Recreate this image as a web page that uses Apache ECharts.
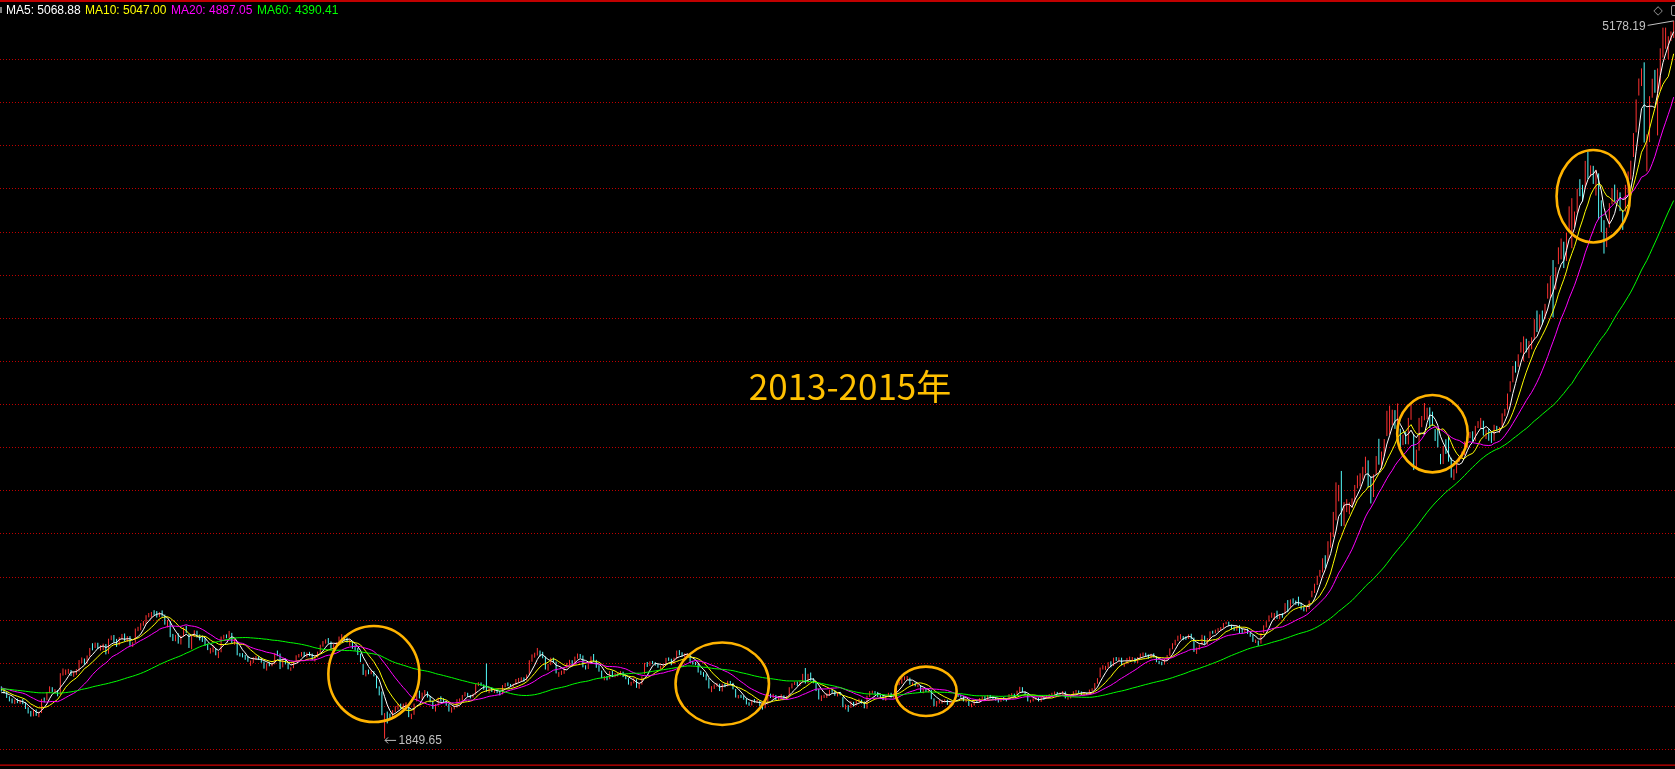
<!DOCTYPE html>
<html><head><meta charset="utf-8">
<script src="https://cdn.jsdelivr.net/npm/echarts@6/dist/echarts.min.js"></script>
<style>html,body{margin:0;padding:0;background:#000;}#c{width:1675px;height:769px;}</style>
</head><body><div id="c"></div>
<script>
// closes before the first visible candle (only used for moving averages)
const preCloses = [2120,2118,2115,2106,2114,2102,2108,2092,2087,2070,2060,2052,2048,2047,2043,2037,2029,2044,2127,2135,2110,2103,2098,2089,2076,2036,2029,2022,2010,2005,2056,2086,2075,2074,2098,2115,2111,2104,2102,2127,2128,2115,2096,2092,2082,2080,2068,2073,2080,2108,2104,2100,2091,2089,2080,2058,2070,2057,2049];

// daily candles: [open, close, low, high]
const k2012 = [
// Nov
[2085,2077,2068,2092],[2070,2068,2058,2080],[2064,2042,2038,2069],[2040,2031,2022,2046],[2029,2020,2013,2036],[2018,2027,2010,2031],[2030,2018,2014,2035],[2017,2025,2011,2029],[2027,2016,2009,2033],[2014,1991,1987,2018],[1990,1973,1966,1995],[1971,1960,1952,1978],[1958,1980,1953,1983],
// Dec
[1978,1960,1955,1985],[1955,1971,1949,1974],[1970,2031,1968,2034],[2030,2029,2018,2040],[2031,2061,2027,2066],[2066,2082,2060,2092],[2080,2075,2066,2088],[2072,2073,2061,2079],[2070,2051,2046,2075],[2055,2150,2053,2153],[2148,2161,2142,2175],[2155,2162,2145,2170],[2163,2166,2150,2173],[2162,2152,2140,2168],[2150,2153,2136,2160],[2151,2168,2145,2172],[2165,2212,2160,2214],[2210,2214,2200,2226],[2215,2204,2193,2221],[2203,2233,2198,2235],[2233,2269,2230,2270]
];
const k2013 = [
// Jan
[2289,2276,2259,2292],[2272,2285,2270,2295],[2287,2276,2265,2294],[2270,2275,2258,2283],[2275,2283,2260,2290],[2280,2243,2240,2288],[2245,2311,2243,2313],[2310,2325,2306,2328],[2322,2309,2295,2330],[2305,2284,2275,2312],[2285,2317,2282,2320],[2318,2328,2310,2335],[2330,2315,2300,2337],[2310,2320,2298,2325],[2318,2282,2280,2325],[2283,2292,2275,2297],[2294,2358,2294,2360],[2357,2359,2348,2368],[2358,2382,2352,2385],[2383,2385,2373,2395],
// Feb
[2385,2419,2380,2422],[2420,2428,2412,2432],[2420,2433,2410,2437],[2436,2434,2422,2445],[2432,2418,2411,2441],[2420,2432,2413,2436],[2435,2421,2415,2444],[2420,2382,2378,2425],[2380,2397,2365,2400],[2390,2325,2320,2395],[2320,2314,2302,2335],[2315,2326,2301,2331],[2320,2293,2290,2338],[2290,2325,2286,2327],[2325,2365,2322,2366],
// Mar
[2362,2359,2340,2373],[2333,2273,2270,2335],[2273,2326,2264,2328],[2328,2347,2322,2352],[2345,2324,2318,2350],[2326,2318,2305,2332],[2315,2311,2298,2324],[2310,2286,2280,2316],[2285,2263,2260,2290],[2258,2263,2244,2270],[2262,2278,2250,2283],[2265,2240,2236,2270],[2236,2251,2223,2254],[2253,2321,2250,2323],[2322,2328,2312,2331],[2326,2323,2315,2333],[2325,2339,2316,2349],[2336,2297,2292,2340],[2295,2300,2285,2312],[2296,2240,2236,2300],[2238,2236,2230,2246],
// Apr
[2240,2234,2226,2246],[2232,2225,2215,2238],[2226,2211,2206,2232],[2200,2206,2187,2212],[2203,2225,2200,2228],[2224,2226,2215,2233],[2228,2221,2214,2232],[2220,2206,2202,2225],[2200,2181,2174,2207],[2174,2197,2165,2199],[2196,2194,2185,2204],[2190,2198,2185,2202],[2196,2245,2194,2247],[2243,2242,2232,2258],[2240,2184,2172,2244],[2182,2218,2180,2220],[2216,2199,2194,2222],[2198,2177,2171,2204],
// May
[2172,2175,2164,2180],[2178,2206,2176,2208],[2207,2235,2205,2236],[2233,2235,2226,2242],[2236,2246,2230,2251],[2245,2232,2228,2252],[2230,2246,2226,2249],[2244,2241,2232,2252],[2238,2217,2214,2244],[2215,2229,2207,2232],[2228,2251,2226,2253],[2250,2282,2248,2285],[2283,2299,2276,2302],[2298,2305,2290,2310],[2304,2302,2290,2316],[2295,2270,2266,2300],[2268,2283,2263,2288],[2282,2293,2275,2297],[2292,2321,2290,2323],[2320,2324,2311,2334],[2322,2311,2305,2327],[2310,2300,2295,2318],
// Jun
[2298,2299,2280,2310],[2297,2272,2266,2302],[2270,2270,2258,2282],[2266,2242,2237,2270],[2240,2211,2204,2244],[2190,2148,2145,2195],[2148,2163,2138,2167],[2162,2157,2148,2170],[2156,2159,2148,2166],[2160,2143,2138,2163],[2135,2084,2083,2140],[2080,2073,2050,2092],[2060,1963,1958,2068],[1950,1959,1849.65,1968],[1958,1951,1920,1975],[1952,1950,1940,1966],[1950,1979,1942,1982],
// Jul
[1982,1995,1972,2000],[1994,2006,1984,2011],[2004,1994,1988,2012],[1990,2007,1980,2012],[2005,2007,1995,2018],[1995,1958,1949,1998],[1955,1960,1940,1965],[1962,2009,1960,2012],[2025,2072,2022,2081],[2068,2039,2036,2072],[2040,2059,2030,2063],[2056,2066,2050,2075],[2064,2044,2040,2068],[2043,2023,2018,2048],[2022,1992,1987,2026],[1990,2004,1975,2010],[2006,2036,2003,2040],[2035,2033,2022,2046],[2030,2021,2015,2037],[2019,2010,2002,2025],[2005,1977,1975,2010],[1980,1991,1970,1995],[1990,1994,1985,2002],
// Aug
[1995,2029,1993,2032],[2028,2029,2020,2036],[2027,2050,2025,2052],[2050,2061,2045,2066],[2058,2047,2043,2062],[2045,2044,2036,2052],[2046,2052,2040,2058],[2055,2101,2053,2103],[2100,2106,2093,2111],[2104,2100,2094,2110],[2098,2081,2076,2101],[2079,2068,2067,2198],[2064,2085,2060,2090],[2083,2072,2066,2087],[2070,2072,2061,2077],[2070,2064,2060,2077],[2064,2057,2050,2070],[2055,2096,2055,2098],[2095,2103,2088,2107],[2102,2101,2093,2110],[2099,2097,2090,2103],[2096,2098,2088,2104],
// Sep
[2100,2123,2098,2126],[2118,2123,2110,2131],[2122,2127,2115,2134],[2126,2123,2114,2133],[2122,2140,2119,2147],[2145,2212,2145,2213],[2212,2236,2206,2240],[2234,2241,2225,2248],[2240,2255,2235,2270],[2252,2236,2230,2258],[2240,2231,2222,2252],[2226,2173,2170,2230],[2172,2191,2165,2196],[2195,2221,2190,2225],[2218,2207,2200,2225],[2205,2155,2152,2207],[2150,2155,2136,2158],[2153,2160,2145,2165],[2158,2175,2150,2178],
// Oct
[2180,2198,2176,2201],[2196,2211,2190,2215],[2208,2190,2185,2213],[2192,2228,2190,2230],[2226,2238,2220,2244],[2236,2233,2224,2242],[2230,2184,2180,2235],[2185,2178,2170,2190],[2176,2193,2172,2196],[2195,2229,2195,2231],[2228,2210,2205,2242],[2208,2184,2178,2215],[2182,2164,2160,2190],[2160,2133,2130,2165],[2130,2133,2120,2140],[2133,2128,2120,2140],[2128,2160,2125,2163],[2158,2141,2135,2165],
// Nov
[2140,2149,2134,2153],[2148,2149,2138,2156],[2147,2157,2142,2163],[2155,2139,2135,2160],[2136,2129,2125,2141],[2125,2106,2100,2130],[2104,2109,2095,2113],[2110,2126,2106,2133],[2122,2087,2085,2125],[2083,2100,2081,2104],[2101,2135,2100,2138],[2150,2197,2148,2201],[2195,2193,2182,2205],[2190,2206,2186,2208],[2205,2201,2195,2210],[2198,2197,2188,2204],[2193,2184,2178,2197],[2182,2183,2172,2188],[2182,2191,2178,2194],[2195,2220,2192,2224],[2221,2220,2210,2226],
// Dec
[2215,2207,2190,2220],[2205,2222,2195,2225],[2222,2251,2218,2258],[2248,2245,2236,2260],[2244,2237,2230,2250],[2236,2238,2225,2245],[2237,2238,2228,2245],[2236,2204,2200,2238],[2203,2202,2193,2210],[2200,2197,2190,2205],[2195,2160,2156,2197],[2158,2151,2145,2165],[2152,2143,2136,2158],[2142,2128,2120,2148],[2125,2085,2082,2130],[2080,2089,2065,2093],[2088,2096,2080,2101],[2095,2102,2090,2108],[2100,2073,2070,2104],[2072,2101,2068,2104],[2100,2097,2088,2105],[2097,2116,2092,2118]
];
const k2014 = [
// Jan
[2112,2109,2100,2117],[2105,2083,2078,2108],[2077,2045,2040,2080],[2042,2047,2036,2052],[2045,2045,2038,2053],[2043,2034,2030,2050],[2032,2013,2008,2036],[2010,2009,2002,2018],[2008,2026,2003,2028],[2024,2023,2016,2033],[2022,2023,2015,2030],[2022,2004,2000,2025],[2000,1991,1984,2005],[1993,2009,1990,2012],[2010,2052,2008,2054],[2050,2044,2038,2058],[2043,2054,2036,2057],[2050,2033,2028,2052],[2030,2038,2026,2045],[2038,2049,2035,2055],[2046,2033,2030,2050],
// Feb
[2035,2044,2030,2048],[2048,2086,2046,2088],[2085,2104,2082,2106],[2103,2110,2098,2114],[2108,2100,2094,2114],[2098,2116,2094,2118],[2115,2135,2110,2150],[2133,2111,2105,2177],[2110,2142,2105,2150],[2140,2127,2118,2156],[2125,2113,2106,2130],[2110,2076,2070,2113],[2074,2034,2031,2080],[2030,2047,2024,2050],[2046,2047,2038,2053],[2045,2056,2038,2060],
// Mar
[2050,2075,2048,2077],[2072,2071,2062,2080],[2070,2053,2048,2075],[2050,2060,2045,2065],[2058,2057,2050,2066],[2040,1999,1995,2042],[1997,2001,1985,2008],[1998,1997,1974,2005],[1995,2019,1992,2023],[2015,2004,1998,2020],[2005,2024,2003,2027],[2025,2025,2018,2035],[2022,2021,2012,2030],[2018,1993,1990,2022],[1994,2047,1988,2049],[2045,2066,2043,2070],[2064,2067,2058,2072],[2065,2063,2055,2070],[2060,2046,2042,2066],[2044,2042,2035,2052],[2043,2033,2028,2050],
// Apr
[2030,2047,2025,2050],[2045,2059,2042,2062],[2058,2043,2040,2062],[2042,2058,2035,2060],[2058,2105,2055,2107],[2103,2109,2098,2115],[2108,2134,2104,2146],[2130,2131,2120,2138],[2129,2131,2122,2140],[2128,2102,2100,2132],[2100,2106,2094,2110],[2104,2098,2092,2110],[2096,2097,2088,2102],[2095,2066,2063,2098],[2065,2078,2060,2080],[2076,2071,2066,2083],[2070,2075,2064,2078],[2074,2036,2032,2076],[2033,2004,2000,2036],[2002,2020,1998,2024],[2018,2026,2012,2030],
// May
[2022,2027,2012,2030],[2025,2028,2018,2032],[2026,2010,2006,2030],[2008,2016,2002,2020],[2015,2011,2005,2020],[2030,2053,2028,2055],[2052,2050,2043,2058],[2048,2047,2040,2054],[2045,2025,2022,2048],[2023,2026,2018,2030],[2022,2005,2001,2025],[2004,2008,1995,2012],[2006,2024,2003,2026],[2022,2021,2015,2030],[2020,2035,2017,2037],[2035,2041,2030,2046],[2040,2034,2030,2046],[2033,2050,2028,2052],[2048,2040,2036,2052],[2040,2039,2032,2046],
// Jun
[2038,2031,2026,2042],[2030,2024,2017,2035],[2022,2038,2020,2040],[2037,2030,2026,2042],[2030,2029,2022,2036],[2030,2053,2028,2056],[2052,2054,2045,2060],[2053,2051,2044,2058],[2050,2070,2048,2072],[2068,2087,2065,2090],[2085,2066,2063,2088],[2065,2055,2050,2068],[2053,2024,2022,2055],[2022,2026,2016,2030],[2025,2034,2022,2037],[2033,2038,2028,2042],[2037,2025,2022,2040],[2024,2039,2020,2041],[2038,2036,2030,2043],[2037,2048,2035,2052],
// Jul
[2048,2050,2043,2056],[2050,2059,2046,2062],[2058,2064,2054,2068],[2063,2059,2055,2066],[2058,2059,2051,2064],[2058,2067,2054,2070],[2066,2038,2036,2068],[2036,2039,2030,2044],[2040,2047,2036,2052],[2046,2067,2045,2069],[2066,2070,2062,2075],[2069,2066,2060,2073],[2064,2055,2052,2068],[2052,2059,2048,2062],[2058,2055,2052,2063],[2056,2075,2054,2077],[2074,2078,2070,2083],[2080,2105,2078,2107],[2106,2127,2104,2130],[2135,2178,2133,2179],[2180,2183,2170,2190],[2180,2182,2168,2187],[2182,2202,2178,2204],
// Aug
[2200,2185,2180,2208],[2188,2223,2186,2225],[2222,2217,2210,2228],[2215,2224,2208,2226],[2222,2193,2190,2225],[2190,2194,2183,2198],[2196,2222,2195,2224],[2222,2222,2212,2230],[2220,2222,2212,2228],[2220,2206,2202,2224],[2204,2226,2200,2228],[2227,2240,2222,2244],[2240,2245,2232,2249],[2244,2237,2230,2248],[2235,2226,2220,2240],[2224,2241,2222,2243],[2240,2229,2226,2245],[2228,2207,2204,2232],[2205,2201,2195,2210],[2200,2195,2190,2206],[2195,2217,2193,2219],
// Sep
[2218,2235,2214,2237],[2236,2266,2234,2268],[2266,2288,2264,2292],[2288,2306,2282,2308],[2306,2326,2302,2327],[2326,2326,2310,2334],[2322,2319,2306,2325],[2318,2316,2308,2324],[2316,2331,2312,2333],[2330,2315,2310,2336],[2313,2255,2252,2318],[2250,2269,2242,2272],[2267,2281,2262,2285],[2285,2329,2283,2331],[2325,2290,2285,2327],[2288,2314,2285,2316],[2313,2345,2310,2347],[2344,2343,2336,2350],[2342,2347,2338,2355],[2350,2357,2345,2362],[2358,2364,2350,2367],
// Oct
[2367,2383,2362,2386],[2385,2389,2380,2392],[2386,2374,2370,2392],[2372,2366,2355,2378],[2364,2359,2350,2370],[2358,2373,2350,2376],[2370,2356,2337,2376],[2355,2341,2336,2360],[2343,2357,2340,2360],[2355,2339,2335,2360],[2338,2326,2322,2343],[2325,2302,2298,2330],[2300,2302,2293,2309],[2298,2290,2280,2304],[2292,2337,2290,2339],[2340,2373,2338,2375],[2370,2391,2365,2394],[2395,2420,2392,2421],
// Nov
[2420,2430,2410,2434],[2428,2430,2400,2432],[2432,2420,2405,2443],[2418,2425,2403,2428],[2425,2418,2410,2432],[2430,2474,2428,2478],[2485,2469,2436,2492],[2462,2494,2455,2495],[2492,2485,2475,2500],[2484,2478,2470,2490],[2503,2474,2466,2508],[2472,2456,2448,2480],[2455,2450,2440,2460],[2447,2452,2438,2460],[2452,2487,2450,2490],[2510,2532,2505,2535],[2535,2567,2525,2568],[2566,2604,2562,2605],[2605,2631,2600,2632],[2640,2683,2620,2686],
// Dec
[2688,2681,2640,2700],[2682,2763,2670,2765],[2760,2779,2735,2806],[2790,2900,2785,2901],[2920,2938,2862,3038],[2975,3020,2950,3026],[3050,2856,2835,3091],[2850,2941,2836,2946],[2920,2925,2900,2960],[2908,2938,2890,2945],[2928,2953,2920,2964],[2955,3022,2945,3026],[3017,3061,3010,3070],[3055,3058,3020,3080],[3062,3108,3050,3110],[3118,3128,3080,3157],[3127,3032,3015,3140],[3030,2978,2940,3066],[2972,3073,2970,3075],[3085,3158,3075,3160],[3175,3169,3120,3240],[3160,3166,3100,3181],[3170,3235,3160,3239]
];
const k2015 = [
// Jan
[3258,3351,3253,3370],[3330,3352,3260,3394],[3326,3374,3304,3375],[3371,3294,3286,3373],[3276,3286,3238,3404],[3259,3230,3187,3287],[3223,3236,3211,3259],[3242,3223,3215,3271],[3224,3336,3214,3337],[3343,3376,3328,3400],[3189,3117,3095,3262],[3114,3173,3103,3190],[3189,3323,3185,3337],[3327,3343,3294,3346],[3343,3351,3326,3406],[3353,3383,3331,3384],[3379,3353,3290,3386],[3349,3305,3300,3366],[3266,3262,3230,3285],[3267,3210,3200,3288],
// Feb
[3148,3128,3122,3170],[3140,3204,3123,3207],[3214,3174,3170,3238],[3250,3136,3134,3252],[3140,3076,3060,3152],[3062,3095,3049,3099],[3092,3141,3080,3142],[3139,3158,3134,3160],[3160,3173,3150,3181],[3180,3203,3164,3228],[3205,3247,3200,3248],[3253,3269,3243,3272],[3269,3229,3227,3275],[3230,3298,3229,3300],[3296,3310,3290,3322],
// Mar
[3314,3336,3290,3337],[3320,3263,3255,3324],[3250,3280,3239,3283],[3280,3248,3231,3287],[3246,3241,3221,3272],[3233,3302,3231,3305],[3300,3286,3278,3300],[3280,3291,3267,3294],[3297,3349,3292,3358],[3352,3373,3345,3379],[3378,3449,3376,3450],[3459,3503,3458,3507],[3505,3578,3502,3578],[3586,3582,3547,3600],[3592,3617,3574,3632],[3641,3687,3640,3688],[3691,3691,3600,3715],[3680,3661,3641,3704],[3650,3683,3614,3694],[3687,3691,3655,3711],[3710,3786,3701,3795],[3820,3748,3735,3835],
// Apr
[3748,3810,3742,3817],[3828,3826,3770,3835],[3803,3864,3800,3866],[3899,3961,3890,3961],[3964,3995,3891,3996],[3995,3958,3803,4069],[3949,4035,3932,4036],[4072,4122,4050,4128],[4125,4135,4072,4169],[4135,4084,4032,4154],[4066,4195,4065,4195],[4255,4287,4208,4318],[4215,4217,4124,4356],[4230,4294,4223,4294],[4307,4398,4288,4399],[4418,4415,4365,4444],[4418,4394,4341,4418],[4402,4527,4400,4529],[4533,4476,4444,4572],[4475,4501,4455,4508],[4493,4442,4422,4506],
// May
[4426,4480,4368,4488],[4470,4299,4257,4471],[4311,4229,4198,4346],[4230,4112,4099,4254],[4129,4206,4129,4219],[4220,4333,4220,4333],[4340,4402,4328,4402],[4392,4376,4341,4419],[4373,4379,4351,4396],[4366,4309,4296,4383],[4296,4284,4209,4301],[4294,4418,4294,4418],[4414,4446,4380,4480],[4452,4530,4442,4530],[4548,4658,4547,4658],[4661,4814,4661,4814],[4832,4911,4832,4911],[4937,4942,4876,4958],[4943,4620,4614,4986],[4604,4612,4480,4652],
// Jun
[4633,4828,4616,4829],[4844,4910,4822,4910],[4924,4910,4845,4951],[4912,4948,4647,4958],[4948,5023,4853,5051],[5046,5132,5008,5147],[5113,5114,5049,5147],[5049,5106,5001,5107],[5101,5122,5085,5129],[5143,5166,5099,5178.19]
];

const maPeriods = [5, 10, 20, 60];
const maLegendText = ['MA5: 5068.88', 'MA10: 5047.00', 'MA20: 4887.05', 'MA60: 4390.41'];
const titleText = '2013-2015年';
const yMin = 1800, yMax = 5200, yStep = 200;

// annotation circles: centre in data space [index, price], radii in px
const circleCenters = [[139.4, 2149], [269.2, 2104], [344.6, 2069], [534.1, 3264], [593.6, 4365]];
const circleRadii = [[45.5, 48], [46.7, 41.2], [30.7, 24.7], [35.3, 38.7], [36.7, 46.2]];

const candles = k2012.concat(k2013, k2014, k2015);
const categories = candles.map((_, i) => i);
const closes = candles.map(d => d[1]);
const allCloses = preCloses.concat(closes);
function ma(n) {
  const out = [];
  for (let i = 0; i < closes.length; i++) {
    const end = preCloses.length + i;
    let s = 0;
    for (let j = end - n + 1; j <= end; j++) s += allCloses[j];
    out.push(+(s / n).toFixed(2));
  }
  return out;
}
const maColors = ['#FFFFFF', '#FFFF00', '#FF00FF', '#00FF00'];
const N = candles.length;
const band = 2.695;
const gridW = N * band;

const chart = echarts.init(document.getElementById('c'), null, {renderer: 'canvas'});
const nTicks = Math.round((yMax - yMin) / yStep) + 1;
const splitColors = [];
for (let i = 0; i < nTicks; i++) splitColors.push(i === nTicks - 1 ? 'rgba(0,0,0,0)' : '#C00000');

const option = {
  backgroundColor: '#000000',
  animation: false,
  grid: {left: 0, right: 1675 - gridW, top: 16.2, bottom: 19.7, containLabel: false},
  xAxis: {type: 'category', data: categories, boundaryGap: true, show: false},
  yAxis: {
    type: 'value', min: yMin, max: yMax, interval: yStep, scale: false,
    axisLine: {show: false}, axisTick: {show: false}, axisLabel: {show: false},
    splitLine: {show: true, showMaxLine: false, lineStyle: {color: splitColors, width: 1, type: [1, 2]}}
  },
  series: [
    {type: 'candlestick', data: candles, barWidth: 1, silent: true,
     itemStyle: {color: '#FF3232', color0: '#54FCFC', borderColor: '#FF3232', borderColor0: '#54FCFC', borderWidth: 1}}
  ].concat(maPeriods.map((p, k) => ({
    type: 'line', data: ma(p), showSymbol: false, symbol: 'none', silent: true, smooth: false,
    lineStyle: {color: maColors[k], width: 1}
  })))
};
chart.setOption(option);

// annotations
const px = (i, v) => chart.convertToPixel({gridIndex: 0}, [i, v]);
let minI = 0, maxI = 0;
candles.forEach((d, i) => { if (d[2] < candles[minI][2]) minI = i; if (d[3] > candles[maxI][3]) maxI = i; });
const pMin = px(minI, candles[minI][2]);
const pMax = px(maxI, candles[maxI][3]);
const font12 = "12px 'Liberation Sans', 'DejaVu Sans', sans-serif";
const gray = '#C0C0C0';
const g = [
  {type: 'rect', shape: {x: 0, y: 0, width: 1675, height: 2}, style: {fill: '#C00000'}, z: 100, silent: true},
  {type: 'rect', shape: {x: 0, y: 764.5, width: 1675, height: 1.2}, style: {fill: '#D00000'}, z: 100, silent: true},
  {type: 'rect', shape: {x: 0, y: 7, width: 2, height: 6}, style: {fill: '#808080'}, z: 100, silent: true}
];
const legendX = [6, 85, 171, 257];
maLegendText.forEach((t, k) => g.push({type: 'text', z: 100, silent: true,
  style: {text: t, x: legendX[k], y: 10.5, fill: maColors[k], font: font12, textAlign: 'left', textVerticalAlign: 'middle'}}));
// low marker: arrow + value
const ax = pMin[0] + 0.5, ay = pMin[1] + 1.8;
g.push({type: 'polyline', z: 100, silent: true, shape: {points: [[ax + 11, ay], [ax, ay]]}, style: {stroke: gray, lineWidth: 1, fill: 'none'}});
g.push({type: 'polyline', z: 100, silent: true, shape: {points: [[ax + 3, ay - 3], [ax, ay], [ax + 3, ay + 3]]}, style: {stroke: gray, lineWidth: 1, fill: 'none'}});
g.push({type: 'text', z: 100, silent: true,
  style: {text: candles[minI][2].toFixed(2), x: ax + 13.5, y: ay, fill: gray, font: font12, textAlign: 'left', textVerticalAlign: 'middle'}});
// high marker
g.push({type: 'text', z: 100, silent: true,
  style: {text: candles[maxI][3].toFixed(2), x: pMax[0] - 28, y: pMax[1] + 6, fill: gray, font: font12, textAlign: 'right', textVerticalAlign: 'middle'}});
g.push({type: 'line', z: 100, silent: true, shape: {x1: pMax[0] - 26, y1: pMax[1] + 4.5, x2: pMax[0], y2: pMax[1]}, style: {stroke: gray, lineWidth: 1}});
g.push({type: 'text', z: 100, silent: true, style: {text: '◇', x: 1658, y: 10.5, fill: '#9A9A9A', font: "12px 'DejaVu Sans'", textAlign: 'center', textVerticalAlign: 'middle'}});
g.push({type: 'rect', z: 100, silent: true, shape: {x: 1671.5, y: 5.5, width: 8, height: 10, r: 1.5}, style: {fill: 'none', stroke: '#9A9A9A', lineWidth: 1}});
g.push({type: 'text', z: 100, silent: true,
  style: {text: titleText, x: 850, y: 387, fill: '#FFC000', font: "35px 'Noto Sans CJK SC', sans-serif", textAlign: 'center', textVerticalAlign: 'middle'}});
circleCenters.forEach((c, k) => {
  const p = px(c[0], c[1]);
  g.push({type: 'ellipse', z: 101, silent: true, shape: {cx: p[0], cy: p[1], rx: circleRadii[k][0], ry: circleRadii[k][1]},
    style: {fill: 'none', stroke: '#FFB300', lineWidth: 2.6}});
});
chart.setOption({graphic: g});
</script>
</body></html>
